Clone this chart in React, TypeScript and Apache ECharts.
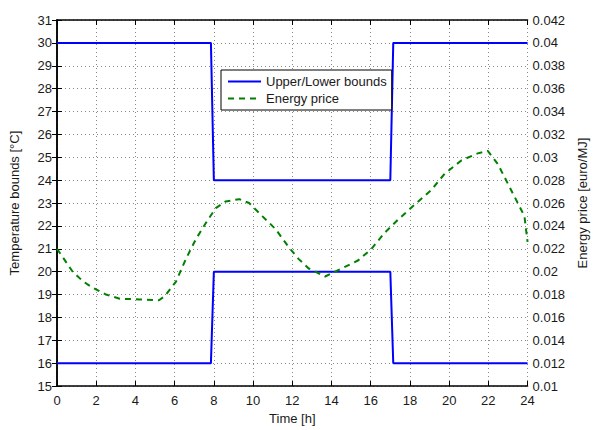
import React, { useEffect, useRef } from "react";
import * as echarts from "echarts";

// Temperature bounds (step profile)
const upperTime = [0, 7.85, 8.0, 17.0, 17.15, 24];
const upperTemp = [30, 30, 24, 24, 30, 30];
const lowerTime = [0, 7.85, 8.0, 17.0, 17.15, 24];
const lowerTemp = [16, 16, 20, 20, 16, 16];

// Energy price curve
const priceTime = [0, 0.8, 1.34, 1.84, 2.5, 3.2, 4.2, 5.2, 5.5, 6.07, 6.58, 7.09, 7.6, 8.1, 8.6, 9.3, 9.8, 10.47, 11.15, 11.82, 12.33, 12.84, 13.68, 14.52, 15.37, 16.04, 16.72, 17.4, 18.24, 19.09, 19.77, 20.62, 21.46, 21.97, 22.48, 23.16, 23.84, 24];
const priceValue = [0.022, 0.02, 0.01914, 0.01858, 0.018, 0.01764, 0.01758, 0.0175, 0.01786, 0.01914, 0.02114, 0.02286, 0.02428, 0.02556, 0.02614, 0.02634, 0.026, 0.02486, 0.02372, 0.02214, 0.0211, 0.02028, 0.01958, 0.02028, 0.021, 0.022, 0.02342, 0.02456, 0.02586, 0.02714, 0.02856, 0.02972, 0.03034, 0.03056, 0.02942, 0.02714, 0.02486, 0.0226];

const seriesNames = ["Upper/Lower bounds", "Energy price"];
const xName = "Time [h]";
const yLeftName = "Temperature bounds [°C]";
const yRightName = "Energy price [euro/MJ]";

const FONT = "Liberation Sans, Arial, Helvetica, sans-serif";
const TXT = "#1a1a1a";
const FS = 13;

export default function App() {
  const ref = useRef<HTMLDivElement>(null);
  useEffect(() => {
    if (!ref.current) return;
    const chart = echarts.init(ref.current, null, { renderer: "svg" });
    const pair = (xs: number[], ys: number[]) => xs.map((x, i) => [x, ys[i]]);
    const axisCommon = {
      axisLine: { show: true, lineStyle: { color: "#000", width: 1.5 } },
      axisTick: { show: true, inside: true, length: 5, lineStyle: { color: "#000", width: 1 } },
      axisLabel: { color: TXT, fontSize: FS, fontFamily: FONT },
      nameTextStyle: { color: TXT, fontSize: FS, fontFamily: FONT },
    };
    chart.setOption({
      animation: false,
      textStyle: { fontFamily: FONT },
      grid: { left: 57, right: 66, top: 20, bottom: 38, containLabel: false },
      legend: {
        orient: "vertical",
        left: 221,
        top: 70,
        padding: [5, 5, 5, 6],
        itemGap: 4,
        itemWidth: 33,
        itemHeight: 13,
        borderColor: "#000",
        borderWidth: 1,
        backgroundColor: "#fff",
        itemStyle: { opacity: 0 },
        textStyle: { color: TXT, fontSize: FS, fontFamily: FONT },
        data: seriesNames,
      },
      xAxis: [
        {
          type: "value",
          min: 0,
          max: 24,
          interval: 2,
          name: xName,
          nameLocation: "middle",
          nameGap: 23,
          ...axisCommon,
          axisLabel: { ...axisCommon.axisLabel, margin: 8 },
          splitLine: { show: true, lineStyle: { color: "#888", type: [1, 3], width: 1 } },
        },
        {
          type: "value",
          position: "top",
          min: 0,
          max: 24,
          interval: 2,
          ...axisCommon,
          axisLabel: { show: false },
          splitLine: { show: false },
        },
      ],
      yAxis: [
        {
          type: "value",
          min: 15,
          max: 31,
          interval: 1,
          name: yLeftName,
          nameLocation: "middle",
          nameGap: 36,
          ...axisCommon,
          axisLabel: { ...axisCommon.axisLabel, margin: 5 },
          splitLine: { show: true, lineStyle: { color: "#888", type: [1, 3], width: 1 } },
        },
        {
          type: "value",
          position: "right",
          min: 0.01,
          max: 0.042,
          interval: 0.002,
          name: yRightName,
          nameLocation: "middle",
          nameGap: 44,
          nameRotate: 90,
          ...axisCommon,
          axisLabel: {
            ...axisCommon.axisLabel,
            margin: 5,
            formatter: (v: number) => String(parseFloat(v.toFixed(3))),
          },
          splitLine: { show: false },
        },
      ],
      series: [
        {
          name: seriesNames[0],
          type: "line",
          xAxisIndex: 0,
          yAxisIndex: 0,
          data: pair(upperTime, upperTemp),
          symbol: "none",
          lineStyle: { color: "#0000ff", width: 2 },
          itemStyle: { color: "#0000ff" },
        },
        {
          name: seriesNames[0],
          type: "line",
          xAxisIndex: 0,
          yAxisIndex: 0,
          data: pair(lowerTime, lowerTemp),
          symbol: "none",
          lineStyle: { color: "#0000ff", width: 2 },
          itemStyle: { color: "#0000ff" },
        },
        {
          name: seriesNames[1],
          type: "line",
          xAxisIndex: 0,
          yAxisIndex: 1,
          data: pair(priceTime, priceValue),
          symbol: "none",
          lineStyle: { color: "#008000", width: 2, type: [6, 5] },
          itemStyle: { color: "#008000" },
        },
      ],
    });
    return () => chart.dispose();
  }, []);
  return <div ref={ref} style={{ width: 597, height: 430, position: "absolute", left: 0, top: 0 }} />;
}
